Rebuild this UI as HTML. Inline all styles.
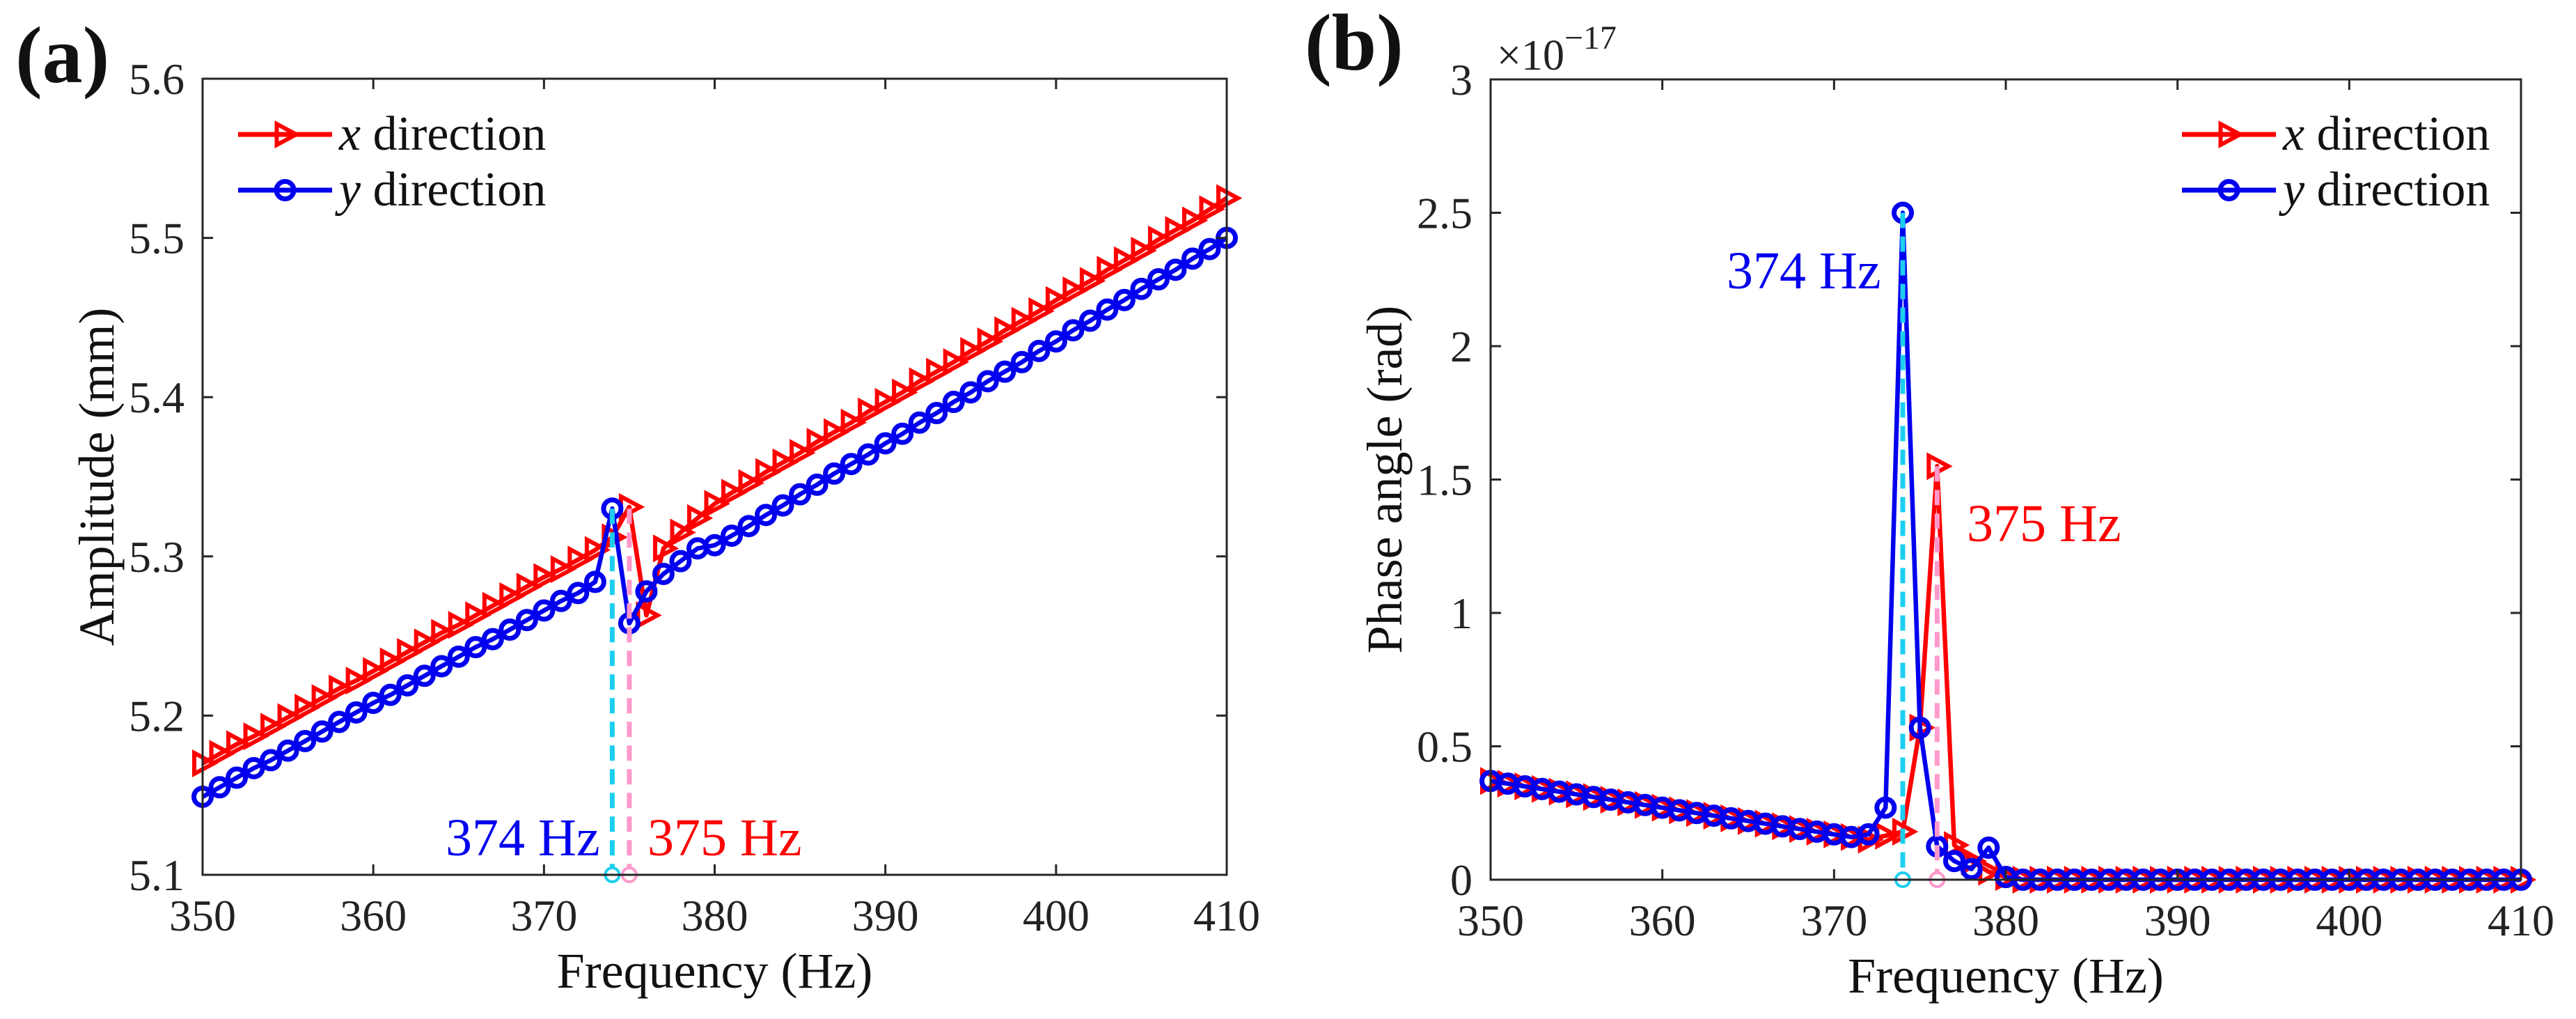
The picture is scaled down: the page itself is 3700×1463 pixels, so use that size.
<!DOCTYPE html>
<html><head><meta charset="utf-8"><style>
html,body{margin:0;padding:0;background:#fff;}
svg, svg text{font-family:"Liberation Serif","DejaVu Serif",serif;}
</style></head><body>
<svg id="fig" width="3700" height="1458" viewBox="0 0 3700 1458" xmlns="http://www.w3.org/2000/svg" font-family="Liberation Serif, DejaVu Serif, serif"></svg>
<script>
const freqs = [350,351,352,353,354,355,356,357,358,359,360,361,362,363,364,365,366,367,368,369,370,371,372,373,374,375,376,377,378,379,380,381,382,383,384,385,386,387,388,389,390,391,392,393,394,395,396,397,398,399,400,401,402,403,404,405,406,407,408,409,410];
const ampX = [5.170,5.176,5.182,5.187,5.193,5.199,5.205,5.211,5.217,5.222,5.228,5.234,5.240,5.246,5.252,5.257,5.263,5.269,5.275,5.281,5.287,5.292,5.298,5.304,5.312,5.331,5.263,5.305,5.315,5.324,5.333,5.340,5.346,5.353,5.359,5.365,5.372,5.378,5.384,5.391,5.397,5.403,5.410,5.416,5.422,5.429,5.435,5.442,5.448,5.454,5.461,5.467,5.473,5.480,5.486,5.492,5.499,5.505,5.511,5.518,5.525];
const ampY = [5.149,5.155,5.161,5.167,5.172,5.178,5.184,5.190,5.196,5.202,5.208,5.213,5.219,5.225,5.231,5.237,5.243,5.248,5.254,5.260,5.266,5.272,5.277,5.284,5.330,5.258,5.278,5.289,5.297,5.305,5.307,5.313,5.319,5.326,5.332,5.339,5.345,5.352,5.358,5.364,5.371,5.377,5.384,5.390,5.397,5.403,5.410,5.416,5.422,5.429,5.435,5.442,5.448,5.455,5.461,5.468,5.474,5.480,5.487,5.493,5.500];
const phaseX = [0.37,0.36,0.35,0.34,0.33,0.32,0.31,0.30,0.29,0.28,0.27,0.26,0.25,0.24,0.23,0.22,0.21,0.20,0.19,0.18,0.17,0.16,0.15,0.165,0.18,0.57,1.55,0.13,0.07,0.03,0.01,0,0,0,0,0,0,0,0,0,0,0,0,0,0,0,0,0,0,0,0,0,0,0,0,0,0,0,0,0,0];
const phaseY = [0.37,0.36,0.35,0.34,0.33,0.32,0.31,0.30,0.29,0.28,0.27,0.26,0.25,0.24,0.23,0.22,0.21,0.20,0.19,0.18,0.17,0.16,0.17,0.27,2.50,0.57,0.125,0.07,0.04,0.12,0.01,0,0,0,0,0,0,0,0,0,0,0,0,0,0,0,0,0,0,0,0,0,0,0,0,0,0,0,0,0,0];
const xTicks = [350,360,370,380,390,400,410];
const ampTicks = [5.1,5.2,5.3,5.4,5.5,5.6];
const ampTickLabels = ["5.1","5.2","5.3","5.4","5.5","5.6"];
const phaseTicks = [0,0.5,1,1.5,2,2.5,3];
const phaseTickLabels = ["0","0.5","1","1.5","2","2.5","3"];
const peakA = [374,5.33,375,5.33];
const peakB = [374,2.5,376,1.55];

const NS="http://www.w3.org/2000/svg";
const FF="Liberation Serif, DejaVu Serif, serif";
const svg=document.getElementById('fig');
function mk(tag,attrs,parent){const e=document.createElementNS(NS,tag);for(const k in attrs)e.setAttribute(k,attrs[k]);if(tag==='text')e.setAttribute('font-family',FF);(parent||svg).appendChild(e);return e;}

function panel(cfg){
  const g=mk('g',{});
  
  
  const L=cfg.L,R=cfg.R,T=cfg.T,B=cfg.B;
  const sx=v=>L+(v-350)/60*(R-L);
  const sy=v=>B-(v-cfg.ymin)/(cfg.ymax-cfg.ymin)*(B-T);
  function series(vals,color,marker,nm){
    const sg=mk('g',{},g);
    
    
    const pts=freqs.map((f,i)=>sx(f).toFixed(1)+','+sy(vals[i]).toFixed(1)).join(' ');
    const pl=mk('polyline',{points:pts,fill:'none',stroke:color,'stroke-width':6.5,'stroke-linejoin':'round'},sg);
    
    
    freqs.forEach((f,i)=>{
      const x=sx(f),y=sy(vals[i]);
      let m;
      if(marker==='tri'){m=mk('polygon',{points:`${x-12},${y-15} ${x+16},${y} ${x-12},${y+15}`,fill:'none',stroke:color,'stroke-width':6},sg);}
      else{m=mk('circle',{cx:x,cy:y,r:12.5,fill:'none',stroke:color,'stroke-width':7},sg);}
      
      
    });
  }
  series(cfg.xs,'#ff0000','tri','x-direction-series');
  series(cfg.ys,'#0000ee','circ','y-direction-series');
  const dl=[[cfg.peak[0],cfg.peak[1],'#1ccff0','cyan-peak-line'],[cfg.peak[2],cfg.peak[3],'#ff99cc','pink-peak-line']];
  dl.forEach(d=>{
    const ln=mk('line',{x1:sx(d[0]),x2:sx(d[0]),y1:sy(d[1]),y2:B,stroke:d[2],'stroke-width':7,'stroke-dasharray':'22 12'},g);
    
    
    const c=mk('circle',{cx:sx(d[0]),cy:B,r:10,fill:'#fff',stroke:d[2],'stroke-width':4},g);
    
    
  });
  const box=mk('rect',{x:L,y:T,width:R-L,height:B-T,fill:'none',stroke:'#262626','stroke-width':3},g);
  
  
  xTicks.forEach(t=>{
    const x=sx(t);
    mk('line',{x1:x,x2:x,y1:B,y2:B-15,stroke:'#262626','stroke-width':3},g);
    mk('line',{x1:x,x2:x,y1:T,y2:T+15,stroke:'#262626','stroke-width':3},g);
    const tx=mk('text',{x:x,y:B+80,'font-size':64,'text-anchor':'middle',fill:'#222'},g);
    tx.textContent=t;
    
    
  });
  cfg.yt.forEach((t,i)=>{
    const y=sy(t);
    mk('line',{x1:L,x2:L+15,y1:y,y2:y,stroke:'#262626','stroke-width':3},g);
    mk('line',{x1:R,x2:R-15,y1:y,y2:y,stroke:'#262626','stroke-width':3},g);
    const tx=mk('text',{x:L-26,y:y+22,'font-size':64,'text-anchor':'end',fill:'#222'},g);
    tx.textContent=cfg.ytl[i];
    
    
  });
  const xt=mk('text',{x:(L+R)/2,y:B+162,'font-size':72,'text-anchor':'middle',fill:'#111'},g);
  xt.textContent='Frequency (Hz)';
  
  
  const yx=L-128, yy=(T+B)/2;
  const yt=mk('text',{x:yx,y:yy,'font-size':72,'text-anchor':'middle',fill:'#111',transform:`rotate(-90 ${yx} ${yy})`},g);
  yt.textContent=cfg.ytitle;
  
  
  const lg=mk('g',{},g);
  
  
  [[cfg.legY,'#ff0000','tri','x'],[cfg.legY+80,'#0000ee','circ','y']].forEach(e=>{
    const [y,c,m,lab]=e;
    const x0=cfg.legX, x1=cfg.legX+135, xm=(x0+x1)/2;
    mk('line',{x1:x0,x2:x1,y1:y,y2:y,stroke:c,'stroke-width':7},lg);
    if(m==='tri') mk('polygon',{points:`${xm-12},${y-15} ${xm+16},${y} ${xm-12},${y+15}`,fill:'none',stroke:c,'stroke-width':6},lg);
    else mk('circle',{cx:xm,cy:y,r:12.5,fill:'none',stroke:c,'stroke-width':7},lg);
    const t=mk('text',{x:x1+10,y:y+22,'font-size':70,fill:'#111'},lg);
    t.innerHTML=`<tspan font-style="italic">${lab}</tspan> direction`;
    
    
  });
  cfg.ann.forEach(a=>{
    const t=mk('text',{x:a[0],y:a[1],'font-size':76,fill:a[2]},g);
    t.textContent=a[3];
    
    
  });
  const pl=mk('text',{x:cfg.labX,y:cfg.labY,'font-size':116,'font-weight':'bold',fill:'#111'},g);
  pl.textContent=cfg.lab;
  
  
  return g;
}
panel({name:'panel-a-amplitude',L:291,R:1762,T:113,B:1256,ymin:5.1,ymax:5.6,xs:ampX,ys:ampY,yt:ampTicks,ytl:ampTickLabels,
  ytitle:'Amplitude (mm)',legX:342,legY:193,peak:peakA,
  ann:[[640,1228,'#0000ee','374 Hz','label-374hz'],[930,1228,'#ff0000','375 Hz','label-375hz']],
  lab:'(a)',labX:22,labY:118});
panel({name:'panel-b-phase',L:2141,R:3621,T:114,B:1263,ymin:0,ymax:3,xs:phaseX,ys:phaseY,yt:phaseTicks,ytl:phaseTickLabels,
  ytitle:'Phase angle (rad)',legX:3134,legY:193,peak:peakB,
  ann:[[2480,414,'#0000ee','374 Hz','label-374hz'],[2825,777,'#ff0000','375 Hz','label-375hz']],
  lab:'(b)',labX:1874,labY:100});
const ex=mk('text',{x:2150,y:100,'font-size':62,fill:'#222'});
ex.innerHTML='×10<tspan dy="-30" font-size="48">−17</tspan>';


</script>
</body></html>
